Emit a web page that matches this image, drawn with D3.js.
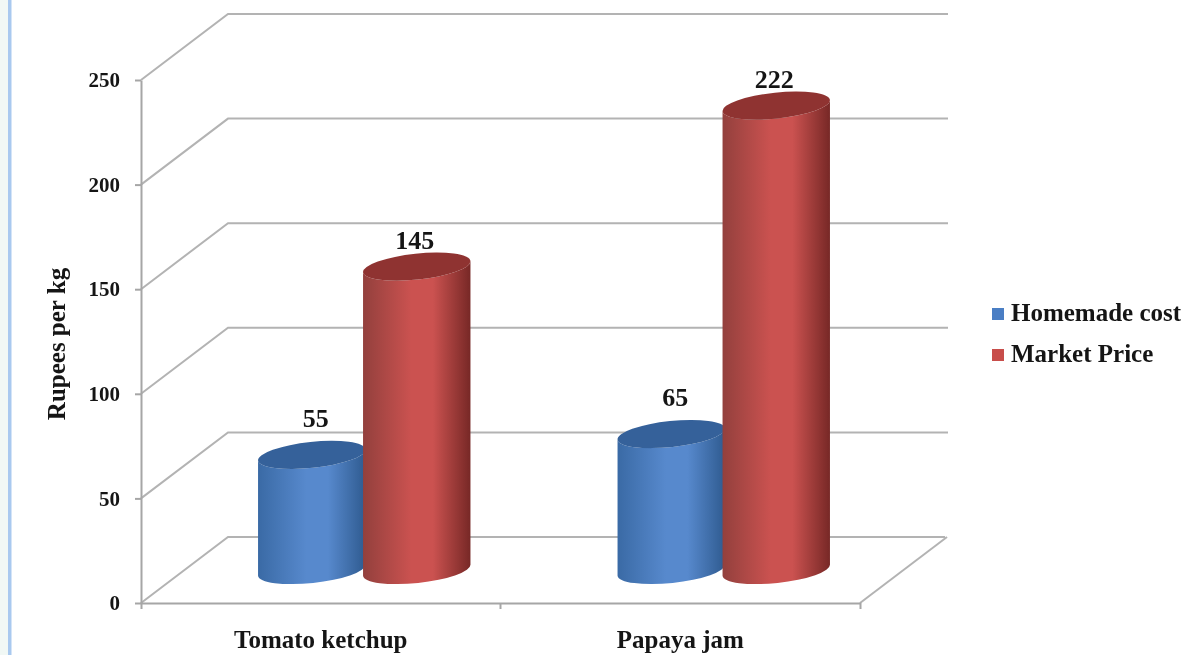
<!DOCTYPE html>
<html>
<head>
<meta charset="utf-8">
<script src="https://cdn.jsdelivr.net/npm/d3@7"></script>
<style>
  html, body { margin: 0; padding: 0; background: #fff; }
  svg { display: block; filter: blur(0.5px); }
  text { font-family: "Liberation Serif", serif; font-weight: bold; fill: #151515; }
  .grid { fill: none; stroke: #b3b3b3; stroke-width: 2; }
  .axis path, .axis line { stroke: #a6a6a6; stroke-width: 2; }
</style>
</head>
<body>
<svg id="chart" width="1200" height="655"></svg>
<script>
const categories = ['Tomato ketchup', 'Papaya jam'];
const seriesNames = ['Homemade cost', 'Market Price'];
const homemadeCost = [55, 65];
const marketPrice = [145, 222];
const yTicks = [0, 50, 100, 150, 200, 250];

const seriesColors = {
  'Homemade cost': { edgeL: '#3a6aa5', mid: '#5789cd', edgeR: '#2f5b90', top: '#35619a', key: '#4a7ec4' },
  'Market Price': { edgeL: '#93403d', mid: '#cb5250', edgeR: '#772826', top: '#8f3331', key: '#c84d4a' },
};
const labelShift = {
  'Homemade cost': { dx: 4, dy: -28 },
  'Market Price': { dx: -2, dy: -18 },
};

const svg = d3.select('#chart');
const FRONT = { left: 141, right: 860, bottom: 603, top: 80 };
const DEPTH = { x: 87, y: -66 };
const TILT = -6;
const RY = 13;

const xAxisScale = d3.scaleBand().domain(categories).range([FRONT.left, FRONT.right]);
const yScale = d3.scaleLinear().domain([0, 250]).range([FRONT.bottom, FRONT.top]);
// bars stand halfway into the floor
const barBand = d3.scaleBand().domain(categories)
  .range([FRONT.left + DEPTH.x / 2, FRONT.right + DEPTH.x / 2]);
const seriesBand = d3.scaleBand().domain(seriesNames).range([-105, 105]);

// page edge strip
svg.append('rect').attr('width', 8).attr('height', 655).attr('fill', '#f1f8f5');
svg.append('rect').attr('x', 8).attr('width', 3.5).attr('height', 655).attr('fill', '#a9c9ef');

// back wall and side wall lines
const grid = svg.append('g');
yTicks.forEach(tick => {
  const y = yScale(tick);
  const backRight = tick === 0 ? FRONT.right + DEPTH.x - 2 : FRONT.right + DEPTH.x + 1;
  grid.append('path').attr('class', 'grid')
    .attr('d', `M${FRONT.left},${y}L${FRONT.left + DEPTH.x},${y + DEPTH.y}L${backRight},${y + DEPTH.y}`);
});
grid.append('path').attr('class', 'grid')
  .attr('d', `M${FRONT.right},${FRONT.bottom}L${FRONT.right + DEPTH.x},${FRONT.bottom + DEPTH.y}`);

const yAxis = svg.append('g').attr('class', 'axis')
  .attr('transform', `translate(${FRONT.left},0)`)
  .call(d3.axisLeft(yScale).tickValues(yTicks).tickSize(6).tickSizeOuter(0).tickPadding(15));
yAxis.selectAll('text').attr('font-size', 21).style('font-family', '"Liberation Serif", serif');

const xAxis = svg.append('g').attr('class', 'axis')
  .attr('transform', `translate(0,${FRONT.bottom})`)
  .call(d3.axisBottom(xAxisScale).tickSize(0).tickSizeOuter(6).tickPadding(27));
xAxis.selectAll('text').attr('font-size', 25).style('font-family', '"Liberation Serif", serif');
// ticks sit between the categories, not on them
xAxis.append('line').attr('x1', xAxisScale(categories[1])).attr('x2', xAxisScale(categories[1]))
  .attr('y1', 0).attr('y2', 6);

svg.append('text')
  .attr('transform', 'translate(65,344) rotate(-90)')
  .attr('text-anchor', 'middle')
  .attr('font-size', 25)
  .text('Rupees per kg');

// cylinder gradients
const defs = svg.append('defs');
seriesNames.forEach((name, i) => {
  const c = seriesColors[name];
  const grad = defs.append('linearGradient').attr('id', `side${i}`);
  grad.append('stop').attr('offset', '0%').attr('stop-color', c.edgeL);
  grad.append('stop').attr('offset', '45%').attr('stop-color', c.mid);
  grad.append('stop').attr('offset', '65%').attr('stop-color', c.mid);
  grad.append('stop').attr('offset', '100%').attr('stop-color', c.edgeR);
});

const rad = TILT * Math.PI / 180;
const drawCylinder = (category, name, value, i) => {
  const step = seriesBand.bandwidth();
  const rx = step / 2 + 1.5;
  const cx = barBand(category) + barBand.bandwidth() / 2 + seriesBand(name) + step / 2;
  const yBase = yScale(0) + DEPTH.y / 2;
  const yTop = yScale(value) + DEPTH.y / 2;
  const dx = rx * Math.cos(rad);
  const dy = rx * Math.sin(rad);
  const g = svg.append('g');
  g.append('path')
    .attr('fill', `url(#side${i})`)
    .attr('d', `M${cx - dx},${yBase - dy}`
      + `A${rx},${RY} ${TILT} 0 0 ${cx + dx},${yBase + dy}`
      + `L${cx + dx},${yTop + dy}`
      + `A${rx},${RY} ${TILT} 0 1 ${cx - dx},${yTop - dy}Z`);
  g.append('ellipse')
    .attr('transform', `translate(${cx},${yTop}) rotate(${TILT})`)
    .attr('rx', rx).attr('ry', RY)
    .attr('fill', seriesColors[name].top);
  g.append('text')
    .attr('x', cx + labelShift[name].dx).attr('y', yTop + labelShift[name].dy)
    .attr('text-anchor', 'middle')
    .attr('font-size', 26)
    .text(value);
};

categories.forEach((category, c) => {
  drawCylinder(category, seriesNames[0], homemadeCost[c], 0);
  drawCylinder(category, seriesNames[1], marketPrice[c], 1);
});

// legend
const legend = svg.append('g').selectAll('g').data(seriesNames).join('g')
  .attr('transform', (d, i) => `translate(992,${314 + i * 41})`);
legend.append('rect').attr('x', 0).attr('y', -6).attr('width', 12).attr('height', 12)
  .attr('fill', d => seriesColors[d].key);
legend.append('text').attr('x', 19).attr('y', 7).attr('font-size', 25).text(d => d);
</script>
</body>
</html>
